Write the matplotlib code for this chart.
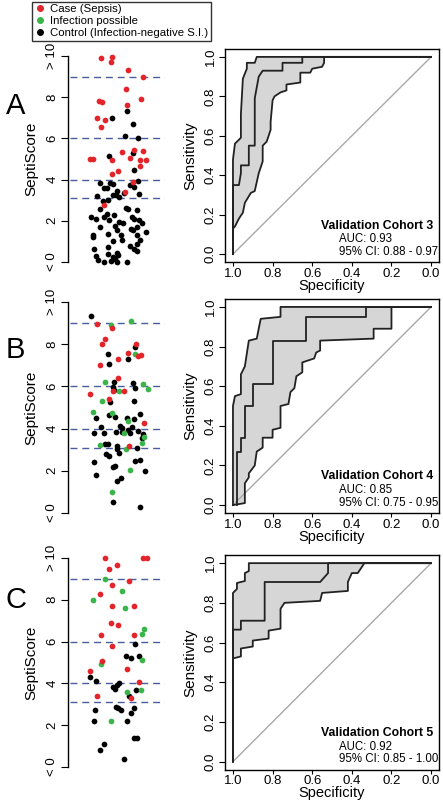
import matplotlib
matplotlib.use("Agg")
import matplotlib.pyplot as plt
from matplotlib.lines import Line2D

plt.rcParams['font.family'] = ['Liberation Sans', 'DejaVu Sans']

RED, GREEN, BLACK = '#e3242b', '#3bb54a', 'black'
DASH = '#4a5c9e'

# ---------------- Panel A scatter data (jitter x, score y) ----------------
A_case_x = [33,43.7,42.7,60.3,74.7,58,31.3,33.7,73,59,28.7,37,33,22,24.7,43.7,53.7,66,74.7,62,72,77.7,72,43.7,49.7,65.3,57,36.3]
A_case_y = [9.89,9.97,9.71,9.32,9.0,8.40,7.83,7.78,7.91,7.62,7.0,6.89,6.55,4.98,4.98,4.94,5.35,5.43,5.38,5.06,4.94,4.94,4.65,4.29,4.41,3.89,3.42,2.77]
A_ctrl_x = [44,58.7,65.3,57.3,69.7,41.3,64.7,66.3,70.3,42,32,44.7,62,66,36.3,38.7,48.7,56,71.3,28.7,45.3,48,50.7,40.3,35,32,58,60.3,68.7,39.3,36,46.3,22.7,28,63.7,41.3,51.3,55.3,66.3,71.3,73.7,32,47,69.3,62.7,77.7,39.7,64.7,48.7,24.7,25.3,52.7,45.3,53.7,69.3,72,26.3,39.7,62,66.3,68.7,48.7,50.3,44.7,47,28,30.3,36,40.3,49.3,59.3,69,42.7]
A_ctrl_y = [6.97,7.33,6.68,6.11,6.0,5.14,5.27,4.46,3.92,3.84,3.84,3.78,3.76,3.65,3.57,3.57,3.45,3.35,3.29,3.21,3.23,3.23,3.16,3.03,2.95,2.59,2.64,2.59,2.51,2.35,2.19,2.27,2.19,2.07,2.19,2.03,1.94,1.91,2.11,2.03,1.91,1.70,1.73,1.70,1.62,1.46,1.38,1.54,1.54,1.22,1.30,1.30,1.02,1.05,1.30,1.05,0.65,0.73,0.78,0.65,0.89,0.44,0.32,0.24,0.16,0.29,0.11,0.0,0.41,0.0,0.0,0.53,0.03]
A_poss_x, A_poss_y = [], []

# ---------------- Panel B ----------------
B_case_x = [28.7,44,37.3,34,32.3,49.7,59.7,67.7,69.7,72.7,22.3,50.3,44.7,41.3,56.3,76,60.7]
B_case_y = [8.98,8.79,8.27,8.0,7.01,7.28,7.56,8.03,7.45,7.51,5.64,6.38,5.78,5.39,5.78,4.28,3.18]
B_poss_x = [43,63.3,66.7,37.3,33.7,25.3,44,50.7,74.7,79.7,59.7,56.3,32,58,73.7,76.3,62,43.7]
B_poss_y = [8.90,9.09,7.54,6.19,5.32,4.80,4.76,5.78,6.13,5.86,4.36,3.78,3.23,3.04,3.34,3.62,2.05,0.99]
B_ctrl_x = [22.7,67,40.3,41.3,59.7,45.7,44.7,64.7,67,46.3,42,65.7,41.3,47,28,33,52,53.7,59.3,66.3,72.3,63.7,62,26.3,36,48,53.7,59.7,70.3,74.7,73.7,37,40.3,48.7,48.7,69.3,38,41.3,51.3,26,67,72,47,45.3,27.7,77.3,52.7,49.3,44.7,72]
B_ctrl_y = [9.34,7.87,7.53,7.04,7.28,6.22,5.98,6.14,5.91,5.83,5.28,5.31,4.65,4.57,4.49,4.09,4.14,4.02,4.49,4.46,4.68,4.09,3.78,3.81,3.78,3.83,3.83,3.94,3.89,3.75,3.54,3.26,3.28,3.18,3.04,3.07,2.79,2.72,2.83,2.44,2.47,2.52,2.24,2.20,1.81,2.0,1.65,1.50,0.50,0.28]

# ---------------- Panel C ----------------
C_case_x = [37,74.7,78.7,41,49.3,43.7,61,31.7,43.7,65.7,43.3,50,33.3,65.7,43.7,33.7,22,58.7,71.3,28.7,62.7]
C_case_y = [10,10,10,9.49,9.68,8.69,8.91,8.29,7.71,7.71,6.90,6.80,6.30,6.30,5.79,5.09,4.61,4.69,4.06,3.39,3.28]
C_poss_x = [37,54.3,25,57.3,73.7,76,32.7,73.7,59.3,72.7,43]
C_poss_y = [9.01,8.40,8.0,7.60,6.38,6.61,4.91,5.12,3.60,3.70,2.21]
C_ctrl_x = [66.7,58.3,63.3,70.7,22,28,51.3,49.3,45.3,47,68.3,61,48,50.3,53,27,66,63,59,25.7,66.3,68.7,35.7,32,56]
C_ctrl_y = [5.90,5.30,5.20,5.31,4.29,4.11,4.02,3.92,3.81,3.71,3.70,3.41,2.88,2.80,2.72,2.72,2.80,2.59,2.21,2.19,1.41,1.41,1.12,0.80,0.40]

thresholds = [3.1, 4, 6, 9]
score_ticks = [0, 2, 4, 6, 8, 10]
score_labels = ['< 0', '2', '4', '6', '8', '> 10']

# ---------------- ROC curves (specificity, sensitivity) ----------------
A_up_spec = [1,1,0.99,0.96,0.96,0.95,0.93,0.93,0.89,0.88,0]
A_up_sens = [0,0.48,0.56,0.59,0.71,0.89,0.94,0.97,0.97,1,1]
A_mid_spec = [1,1,0.97,0.96,0.96,0.92,0.92,0.89,0.89,0.87,0.85,0.75,0.75,0.65,0.65,0]
A_mid_sens = [0,0.35,0.35,0.41,0.45,0.45,0.55,0.55,0.79,0.90,0.93,0.93,0.97,0.97,1,1]
A_lo_spec = [1,1,0.99,0.97,0.95,0.94,0.91,0.89,0.87,0.85,0.85,0.83,0.82,0.81,0.81,0.80,0.79,0.76,0.73,0.73,0.66,0.66,0.61,0.60,0.55,0.54,0.54,0]
A_lo_sens = [0,0.13,0.14,0.18,0.21,0.26,0.31,0.32,0.41,0.47,0.55,0.57,0.60,0.63,0.67,0.78,0.80,0.82,0.83,0.86,0.87,0.92,0.92,0.94,0.95,0.97,1,1]

B_up_spec = [1,1,0.99,0.96,0.96,0.94,0.92,0.88,0.87,0.86,0.76,0.76,0]
B_up_sens = [0,0.50,0.55,0.56,0.66,0.70,0.83,0.84,0.89,0.94,0.95,1,1]
B_mid_spec = [0.98,0.98,0.96,0.96,0.94,0.94,0.90,0.90,0.80,0.80,0.63,0.63,0.33,0.33,0]
B_mid_sens = [0,0.27,0.27,0.34,0.34,0.50,0.50,0.61,0.61,0.83,0.83,0.95,0.95,1,1]
B_lo_spec = [1,0.94,0.94,0.92,0.92,0.89,0.88,0.85,0.85,0.80,0.80,0.76,0.76,0.72,0.71,0.69,0.68,0.65,0.65,0.59,0.58,0.56,0.56,0.29,0.29,0.20,0.20,0]
B_lo_sens = [0,0.01,0.11,0.14,0.16,0.20,0.27,0.29,0.34,0.34,0.38,0.39,0.50,0.51,0.57,0.59,0.65,0.67,0.72,0.74,0.77,0.78,0.83,0.84,0.89,0.89,1,1]

C_up_spec = [1,1,0.98,0.98,0.94,0.94,0.92,0.92,0]
C_up_sens = [0,0.85,0.87,0.90,0.91,0.95,0.96,1,1]
C_mid_spec = [1,1,0.96,0.96,0.84,0.84,0.56,0.52,0.52,0]
C_mid_sens = [0,0.665,0.665,0.71,0.71,0.905,0.905,0.95,1,1]
C_lo_spec = [1,1,0.96,0.96,0.90,0.90,0.82,0.82,0.76,0.76,0.74,0.56,0.55,0.42,0.42,0.40,0.37,0.34,0.34,0]
C_lo_sens = [0,0.52,0.53,0.57,0.58,0.61,0.62,0.66,0.67,0.77,0.80,0.81,0.85,0.86,0.905,0.95,0.95,0.995,1,1]

cohorts = ['Validation Cohort 3', 'Validation Cohort 4', 'Validation Cohort 5']
aucs = ['AUC: 0.93', 'AUC: 0.85', 'AUC: 0.92']
cis = ['95% CI: 0.88 - 0.97', '95% CI: 0.75 - 0.95', '95% CI: 0.85 - 1.00']
letters = ['A', 'B', 'C']

fig = plt.figure(figsize=(4.43, 8.0), dpi=100)

scat_pos = [(0.1535, 0.6725, 0.219, 0.2575), (0.1535, 0.35875, 0.219, 0.26375), (0.1535, 0.04125, 0.219, 0.26125)]
roc_pos = [(0.508, 0.6725, 0.483, 0.26625), (0.508, 0.35875, 0.483, 0.2675), (0.508, 0.038, 0.483, 0.268)]
letter_y = [0.868, 0.563, 0.25]

scat_data = [
    (A_case_x, A_case_y, A_poss_x, A_poss_y, A_ctrl_x, A_ctrl_y),
    (B_case_x, B_case_y, B_poss_x, B_poss_y, B_ctrl_x, B_ctrl_y),
    (C_case_x, C_case_y, C_poss_x, C_poss_y, C_ctrl_x, C_ctrl_y),
]
roc_data = [
    (A_up_spec, A_up_sens, A_mid_spec, A_mid_sens, A_lo_spec, A_lo_sens),
    (B_up_spec, B_up_sens, B_mid_spec, B_mid_sens, B_lo_spec, B_lo_sens),
    (C_up_spec, C_up_sens, C_mid_spec, C_mid_sens, C_lo_spec, C_lo_sens),
]

for i in range(3):
    ax = fig.add_axes(scat_pos[i])
    cx, cy, px, py, kx, ky = scat_data[i]
    for t in thresholds:
        ax.plot([2, 97], [t, t], color=DASH, lw=1.0, dashes=(5, 3.5), zorder=1)
    ax.scatter(kx, ky, s=17, color=BLACK, lw=0, zorder=3, clip_on=False)
    if px:
        ax.scatter(px, py, s=17, color=GREEN, lw=0, zorder=3, clip_on=False)
    ax.scatter(cx, cy, s=17, color=RED, lw=0, zorder=3, clip_on=False)
    ax.set_xlim(0, 97)
    ax.set_ylim(0, 10)
    for s in ['top', 'right', 'bottom']:
        ax.spines[s].set_visible(False)
    ax.spines['left'].set_linewidth(1.0)
    ax.set_xticks([])
    ax.set_yticks(score_ticks)
    ax.set_yticklabels(score_labels, rotation=90, va='center', fontsize=9.5)
    ax.tick_params(axis='y', length=5, pad=2)
    ax.set_ylabel('SeptiScore', fontsize=11, labelpad=6)
    ax.patch.set_alpha(0)
    fig.text(0.035, letter_y[i], letters[i], fontsize=21, ha='center', va='center')

    rx = fig.add_axes(roc_pos[i])
    us, ue, ms, me, ls, le = roc_data[i]
    rx.fill(list(us) + list(ls[::-1]), list(ue) + list(le[::-1]), color='#d6d6d6', lw=0, zorder=1)
    rx.plot([1, 0], [0, 1], color='#a8a8a8', lw=1.0, zorder=2)
    rx.plot(us, ue, color='#222222', lw=1.3, zorder=3)
    rx.plot(ls, le, color='#222222', lw=1.3, zorder=3)
    rx.plot(ms, me, color='#222222', lw=1.3, zorder=3)
    rx.set_xlim(1.04, -0.04)
    rx.set_ylim(-0.04, 1.04)
    rx.set_xticks([1.0, 0.8, 0.6, 0.4, 0.2, 0.0])
    rx.set_xticklabels(['1.0', '0.8', '0.6', '0.4', '0.2', '0.0'], fontsize=9.5)
    rx.set_yticks([0, 0.2, 0.4, 0.6, 0.8, 1.0])
    rx.set_yticklabels(['0.0', '0.2', '0.4', '0.6', '0.8', '1.0'], rotation=90, va='center', fontsize=9.5)
    rx.tick_params(axis='y', length=4, pad=2)
    rx.tick_params(axis='x', length=3, pad=1)
    rx.set_xlabel('Specificity', fontsize=10.5, labelpad=-0.5)
    rx.set_ylabel('Sensitivity', fontsize=11, labelpad=5)
    for s in rx.spines.values():
        s.set_linewidth(1.0)
    rx.text(-0.01, 0.145, cohorts[i], fontsize=8.8, fontweight='bold', ha='right', va='center')
    rx.text(0.465, 0.075, aucs[i], fontsize=8.3, ha='left', va='center')
    rx.text(0.465, 0.012, cis[i], fontsize=8.3, ha='left', va='center')

handles = [Line2D([], [], marker='o', ls='', color=RED, markersize=4),
           Line2D([], [], marker='o', ls='', color=GREEN, markersize=4),
           Line2D([], [], marker='o', ls='', color=BLACK, markersize=4)]
leg = fig.legend(handles, ['Case (Sepsis)', 'Infection possible', 'Control (Infection-negative S.I.)'],
                 loc='upper left', bbox_to_anchor=(0.072, 0.998), fontsize=8.2, frameon=True,
                 fancybox=False, edgecolor='black', handletextpad=0.3, handlelength=1.0,
                 borderpad=0.25, labelspacing=0.15, borderaxespad=0)
leg.get_frame().set_linewidth(1.0)

fig.savefig('out.png', dpi=100)
